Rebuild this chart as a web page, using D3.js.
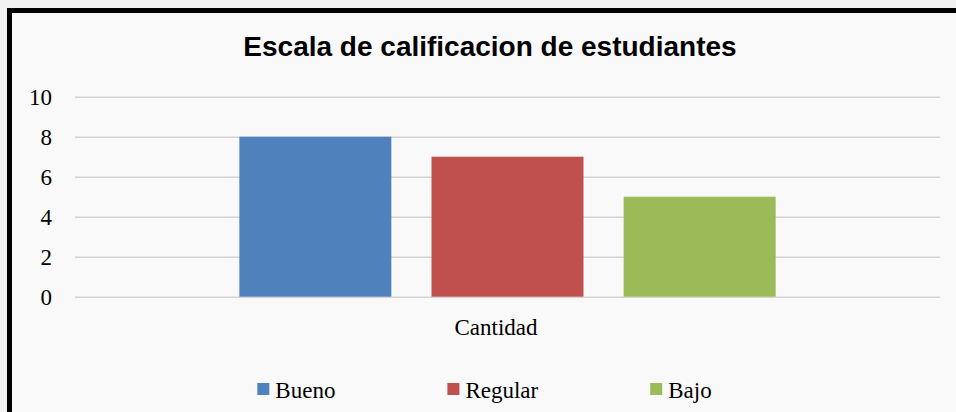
<!DOCTYPE html>
<html>
<head>
<meta charset="utf-8">
<script src="https://cdn.jsdelivr.net/npm/d3@7"></script>
<style>
  html, body { margin: 0; padding: 0; background: #f2f2f2; }
  svg { display: block; }
</style>
</head>
<body>
<div id="chart"></div>
<script>
const categories = ['Cantidad'];
const series = ['Bueno', 'Regular', 'Bajo'];
const values = [8, 7, 5];
const colors = ['#4F81BD', '#C0504D', '#9BBB59'];
const yTicks = [0, 2, 4, 6, 8, 10];
const title = 'Escala de calificacion de estudiantes';

const W = 956, H = 412;
const PLOT = {left: 75, right: 940, top: 96.7, bottom: 296.7};

const svg = d3.select('#chart').append('svg')
    .attr('width', W)
    .attr('height', H);

// chart area + frame
svg.append('rect')
    .attr('x', 9.5).attr('y', 10.5)
    .attr('width', 980).attr('height', 440)
    .attr('fill', '#f9f9f9')
    .attr('stroke', '#000')
    .attr('stroke-width', 5);

svg.append('text')
    .attr('x', 490)
    .attr('y', 56)
    .attr('text-anchor', 'middle')
    .attr('font-family', 'Arial, "Liberation Sans", sans-serif')
    .attr('font-weight', 'bold')
    .attr('font-size', '28px')
    .attr('fill', '#000')
    .text(title);

const y = d3.scaleLinear()
    .domain([0, 10])
    .range([PLOT.bottom, PLOT.top]);

const x0 = d3.scaleBand()
    .domain(categories)
    .range([PLOT.left, PLOT.right])
    .paddingInner(0.38)
    .paddingOuter(0.19);

const x1 = d3.scaleBand()
    .domain(series)
    .range([0, x0.bandwidth()])
    .paddingInner(0.209)
    .paddingOuter(0);

// grid
const grid = svg.append('g')
    .attr('transform', `translate(${PLOT.left},0)`)
    .call(d3.axisLeft(y).tickValues(yTicks).tickSize(-(PLOT.right - PLOT.left)).tickFormat(''));
grid.select('.domain').remove();
grid.selectAll('line').attr('stroke', '#d4d4d4').attr('stroke-width', 1.5);

// y labels
const yAxis = svg.append('g')
    .attr('transform', `translate(${PLOT.left},0)`)
    .call(d3.axisLeft(y).tickValues(yTicks).tickSize(0).tickPadding(23));
yAxis.select('.domain').remove();
yAxis.selectAll('text')
    .attr('font-family', '"Times New Roman", "Liberation Serif", serif')
    .attr('font-size', '23px')
    .attr('fill', '#000');

// bars
const group = svg.append('g')
    .attr('transform', `translate(${x0(categories[0])},0)`);

group.selectAll('rect')
    .data(series.map((s, i) => ({s, v: values[i], c: colors[i]})))
    .enter().append('rect')
    .attr('x', d => x1(d.s))
    .attr('y', d => y(d.v))
    .attr('width', x1.bandwidth())
    .attr('height', d => y(0) - y(d.v))
    .attr('fill', d => d.c);

// category axis label
svg.append('text')
    .attr('x', 496)
    .attr('y', 335)
    .attr('text-anchor', 'middle')
    .attr('font-family', '"Times New Roman", "Liberation Serif", serif')
    .attr('font-size', '23px')
    .attr('fill', '#000')
    .text(categories[0]);

// legend
const legend = svg.append('g').attr('transform', 'translate(0,398)');
const items = series.map((s, i) => {
    const g = legend.append('g');
    g.append('rect')
        .attr('x', 0).attr('y', -15)
        .attr('width', 12).attr('height', 12)
        .attr('fill', colors[i]);
    const t = g.append('text')
        .attr('x', 18)
        .attr('font-family', '"Times New Roman", "Liberation Serif", serif')
        .attr('font-size', '23px')
        .attr('fill', '#000')
        .text(s);
    return {g, w: 18 + t.node().getComputedTextLength()};
});
const gap = 112;
const total = d3.sum(items, d => d.w) + gap * (items.length - 1);
let lx = 484.5 - total / 2;
items.forEach(d => {
    d.g.attr('transform', `translate(${lx},0)`);
    lx += d.w + gap;
});
</script>
</body>
</html>
